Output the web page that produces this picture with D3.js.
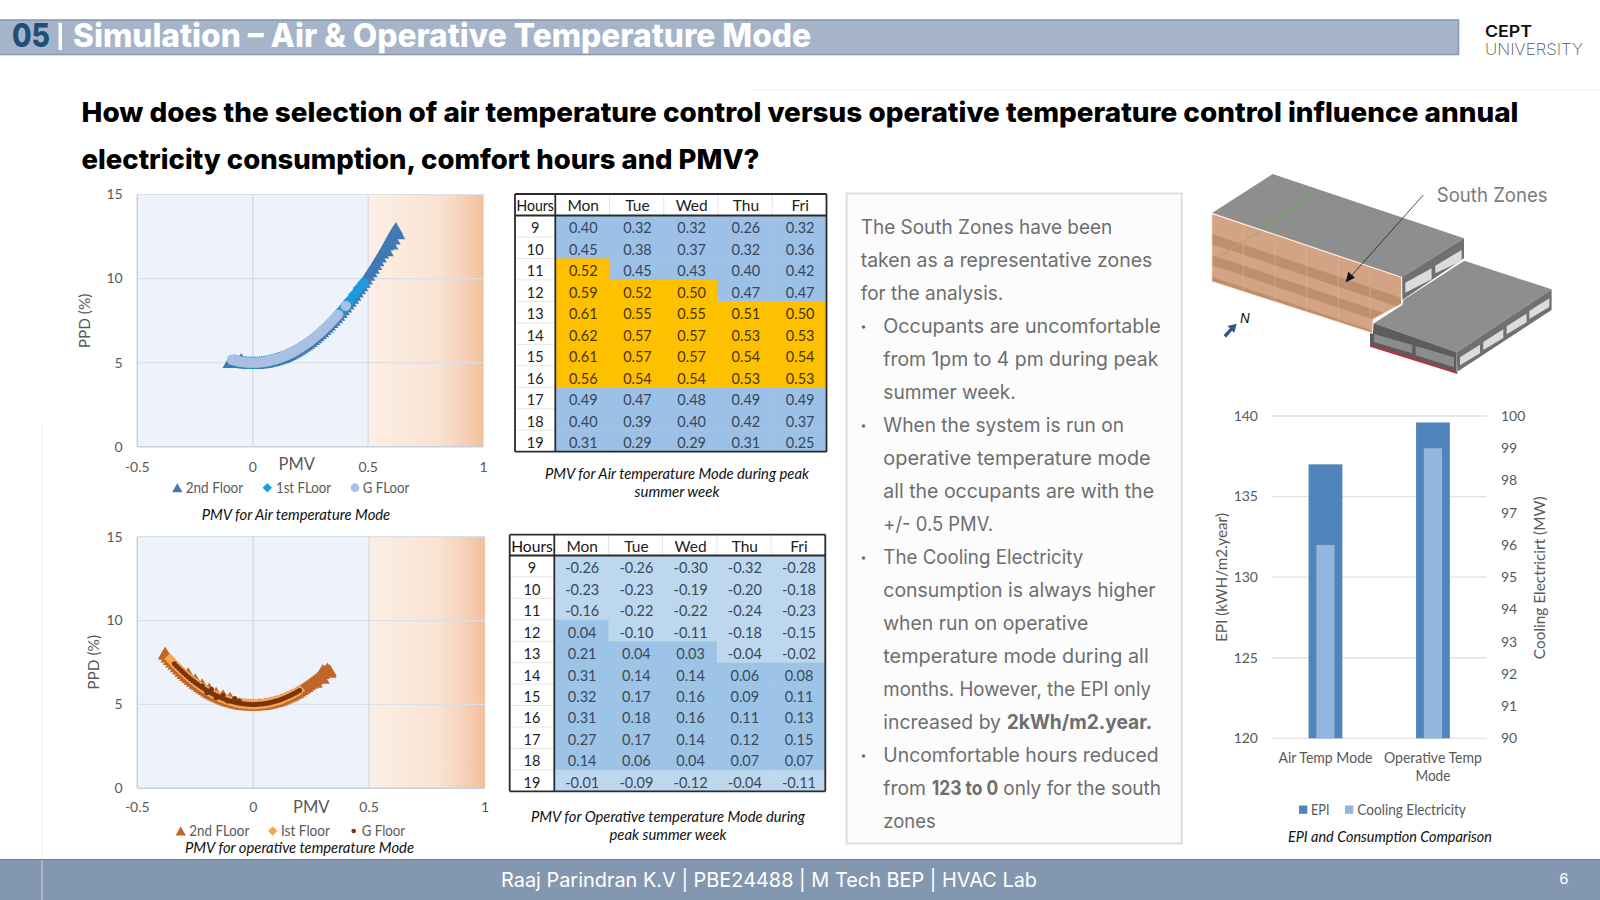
<!DOCTYPE html>
<html><head><meta charset="utf-8">
<script src="https://cdn.jsdelivr.net/npm/d3@7/dist/d3.min.js"></script>
<style>html,body{margin:0;padding:0;background:#fff;overflow:hidden}svg{display:block}</style>
</head><body><svg id="s" width="1600" height="900"></svg>
<script>
// ---------- DATA ----------
const days = ["Mon","Tue","Wed","Thu","Fri"];
const hours = [9,10,11,12,13,14,15,16,17,18,19];
const airTable = [
 ["0.40","0.32","0.32","0.26","0.32"],["0.45","0.38","0.37","0.32","0.36"],["0.52","0.45","0.43","0.40","0.42"],
 ["0.59","0.52","0.50","0.47","0.47"],["0.61","0.55","0.55","0.51","0.50"],["0.62","0.57","0.57","0.53","0.53"],
 ["0.61","0.57","0.57","0.54","0.54"],["0.56","0.54","0.54","0.53","0.53"],["0.49","0.47","0.48","0.49","0.49"],
 ["0.40","0.39","0.40","0.42","0.37"],["0.31","0.29","0.29","0.31","0.25"]];
const opTable = [
 ["-0.26","-0.26","-0.30","-0.32","-0.28"],["-0.23","-0.23","-0.19","-0.20","-0.18"],["-0.16","-0.22","-0.22","-0.24","-0.23"],
 ["0.04","-0.10","-0.11","-0.18","-0.15"],["0.21","0.04","0.03","-0.04","-0.02"],["0.31","0.14","0.14","0.06","0.08"],
 ["0.32","0.17","0.16","0.09","0.11"],["0.31","0.18","0.16","0.11","0.13"],["0.27","0.17","0.14","0.12","0.15"],
 ["0.14","0.06","0.04","0.07","0.07"],["-0.01","-0.09","-0.12","-0.04","-0.11"]];

// PMV / PPD readings along the band in the two scatter plots
const curvePmv = [-0.40,-0.39,-0.38,-0.37,-0.36,-0.35,-0.34,-0.33,-0.32,-0.31,-0.30,-0.29,-0.28,-0.27,-0.26,-0.25,-0.24,-0.23,-0.22,-0.21,-0.20,-0.19,-0.18,-0.17,-0.16,-0.15,-0.14,-0.13,-0.12,-0.11,-0.10,-0.09,-0.08,-0.07,-0.06,-0.05,-0.04,-0.03,-0.02,-0.01,0,0.01,0.02,0.03,0.04,0.05,0.06,0.07,0.08,0.09,0.10,0.11,0.12,0.13,0.14,0.15,0.16,0.17,0.18,0.19,0.20,0.21,0.22,0.23,0.24,0.25,0.26,0.27,0.28,0.29,0.30,0.31,0.32,0.33,0.34,0.35,0.36,0.37,0.38,0.39,0.40,0.41,0.42,0.43,0.44,0.45,0.46,0.47,0.48,0.49,0.50,0.51,0.52,0.53,0.54,0.55,0.56,0.57,0.58,0.59,0.60,0.61,0.62];
const curvePpd = [8.35,8.18,8.02,7.86,7.71,7.56,7.42,7.28,7.14,7.01,6.88,6.76,6.64,6.52,6.41,6.30,6.20,6.10,6.01,5.92,5.83,5.75,5.67,5.60,5.53,5.47,5.41,5.35,5.30,5.25,5.21,5.17,5.13,5.10,5.07,5.05,5.03,5.02,5.01,5.00,5.00,5.00,5.01,5.02,5.03,5.05,5.07,5.10,5.13,5.17,5.21,5.25,5.30,5.35,5.41,5.47,5.53,5.60,5.67,5.75,5.83,5.92,6.01,6.10,6.20,6.30,6.41,6.52,6.64,6.76,6.88,7.01,7.14,7.28,7.42,7.56,7.71,7.86,8.02,8.18,8.35,8.52,8.69,8.87,9.05,9.24,9.43,9.62,9.82,10.02,10.23,10.44,10.66,10.88,11.10,11.33,11.56,11.80,12.04,12.29,12.54,12.79,13.05];
// extents of each series along the band, and the readings off the band
const air2Range = [-0.08,0.61]; const air2XPmv = [-0.10,-0.08,-0.05,0.58,0.60,0.61,0.63,0.62]; const air2XPpd = [5.05,5.15,5.2,11.7,12.1,12.4,12.7,13.0];
const air1Range = [-0.07,0.42]; const air1XPmv = [0.44,0.46,0.48]; const air1XPpd = [9.05,9.43,9.75];
const air0Range = [-0.09,0.37]; const air0XPmv = [0.403]; const air0XPpd = [8.38];
const op2Range = [-0.38,0.32];  const op2XPmv = [-0.38,-0.28,-0.25,-0.22,-0.19,-0.16,-0.13,-0.10,0.27,0.30,0.33,0.33,0.30]; const op2XPpd = [8.1,6.85,6.5,6.2,5.95,5.7,5.55,5.4,6.35,6.6,6.95,7.05,7.05];
const op1Range = [-0.36,0.20];  const op1XPmv = []; const op1XPpd = [];
const op0Range = [-0.34,0.20];  const op0XPmv = [-0.22,-0.20,-0.18,-0.16,-0.13,-0.11,-0.08,-0.06]; const op0XPpd = [6.1,5.7,5.9,5.4,5.55,5.2,5.35,5.2];

const barCats = ["Air Temp Mode","Operative Temp Mode"];
const epiValues = [137,139.6];
const coolingValues = [96,99];
const ppdTicks = [0,5,10,15];
const pmvTicks = [-0.5,0,0.5,1];
const epiTicks = [120,125,130,135,140];
const coolTicks = [90,91,92,93,94,95,96,97,98,99,100];

// ---------- HELPERS ----------
const svg = d3.select("#s");
const CH = "Lato, Carlito, sans-serif";
const PP = "Inter, 'Noto Sans', sans-serif";
const defs = svg.append("defs");
const grad = defs.append("linearGradient").attr("id","warm");
[[0,"#fcefe5"],[0.6,"#f9e3d3"],[0.8,"#f6d3ba"],[1,"#f2c19c"]].forEach(s=>grad.append("stop").attr("offset",s[0]).attr("stop-color",s[1]));
function txt(g,x,y,t,o={}){
  const e=g.append("text").attr("x",x).attr("y",y).text(t)
    .attr("font-family",o.f||CH).attr("font-size",o.s||15).attr("fill",o.c||"#595959")
    .attr("text-anchor",o.a||"start");
  if(o.w)e.attr("font-weight",o.w);
  if(o.i)e.attr("font-style","italic");
  if(o.len)e.attr("textLength",o.len).attr("lengthAdjust","spacingAndGlyphs");
  if(o.rot!=null)e.attr("transform",`rotate(${o.rot} ${x} ${y})`);
  if(o.mid)e.attr("dominant-baseline","central");
  return e;
}
// square diamond and box-centred triangle, as a spreadsheet chart draws its markers
const wideDiamond={draw(c,s){const r=Math.sqrt(s/2);c.moveTo(0,-r);c.lineTo(r,0);c.lineTo(0,r);c.lineTo(-r,0);c.closePath();}};
const boxTriangle={draw(c,s){const w=Math.sqrt(4*s/Math.sqrt(3)),h=w*Math.sqrt(3)/2;c.moveTo(0,-h/2);c.lineTo(w/2,h/2);c.lineTo(-w/2,h/2);c.closePath();}};
function band(range,xPmv,xPpd){
  const eps=1e-6,p=[],q=[];
  curvePmv.forEach((v,i)=>{if(v>=range[0]-eps&&v<=range[1]+eps){p.push(v);q.push(curvePpd[i]);}});
  return {pmv:p.concat(xPmv),ppd:q.concat(xPpd)};
}

// ---------- HEADER / FOOTER ----------
svg.append("rect").attr("x",-2).attr("y",20).attr("width",1460.5).attr("height",34.5).attr("fill","#a5b4c9").attr("stroke","#8a99b3").attr("stroke-width",1.6);
txt(svg,12,46.5,"05",{f:PP,s:32,w:800,c:"#1f4e79",len:38});
svg.append("rect").attr("x",58.5).attr("y",23).attr("width",3.5).attr("height",27).attr("fill","#fff");
txt(svg,73,46.5,"Simulation – Air & Operative Temperature Mode",{f:PP,s:32,w:800,c:"#fff",len:738});
txt(svg,1485,36.5,"CEPT",{f:PP,s:16.5,w:600,c:"#111",len:47});
txt(svg,1485,55,"UNIVERSITY",{f:PP,s:15.5,w:200,c:"#555",len:98});
svg.append("line").attr("x1",753).attr("x2",1600).attr("y1",90).attr("y2",90).attr("stroke","#eeeeee");
svg.append("line").attr("x1",42).attr("x2",42).attr("y1",424).attr("y2",860).attr("stroke","#ececec");
txt(svg,81.5,121.5,"How does the selection of air temperature control versus operative temperature control influence annual",{f:PP,s:27.5,w:800,c:"#000",len:1437});
txt(svg,81.5,169.3,"electricity consumption, comfort hours and PMV?",{f:PP,s:27.5,w:800,c:"#000",len:678});
svg.append("rect").attr("x",0).attr("y",859.5).attr("width",1600).attr("height",40.5).attr("fill","#8497b0");
svg.append("line").attr("x1",0).attr("x2",1600).attr("y1",859.5).attr("y2",859.5).attr("stroke","#6f7d92").attr("stroke-width",1);
svg.append("line").attr("x1",42).attr("x2",42).attr("y1",860).attr("y2",900).attr("stroke","#c9d3e0");
txt(svg,501,886.7,"Raaj Parindran K.V | PBE24488 | M Tech BEP | HVAC Lab",{f:PP,s:20,c:"#fff",len:536});
txt(svg,1564,883.5,"6",{f:PP,s:15,c:"#fff",a:"middle"});

// ---------- SCATTER CHARTS ----------
function scatter(cfg){
  const g=svg.append("g");
  const x=d3.scaleLinear().domain([-0.5,1]).range([137.3,cfg.xr]);
  const y=d3.scaleLinear().domain([0,15]).range([cfg.bottom,cfg.top]);
  g.append("rect").attr("x",x(-0.5)).attr("y",y(15)).attr("width",x(0.5)-x(-0.5)).attr("height",y(0)-y(15)).attr("fill","#eef3fb");
  g.append("rect").attr("x",x(0.5)).attr("y",y(15)).attr("width",x(1)-x(0.5)).attr("height",y(0)-y(15)).attr("fill","url(#warm)");
  g.selectAll(".gy").data(ppdTicks).join("line").attr("x1",x(-0.5)).attr("x2",x(1)).attr("y1",d=>y(d)).attr("y2",d=>y(d))
    .attr("stroke",d=>d===0?"#c9d1dc":"#dcdfe5").attr("stroke-width",d=>d===0?1.6:1.2);
  g.selectAll(".gx").data(pmvTicks.slice(0,3)).join("line").attr("x1",d=>x(d)).attr("x2",d=>x(d)).attr("y1",y(0)).attr("y2",y(15))
    .attr("stroke",d=>d===-0.5?"#c9d1dc":"#d8dbe2").attr("stroke-width",d=>d===-0.5?1.6:1.4);
  g.selectAll(".ty").data(ppdTicks).join("text").attr("x",122.7).attr("y",d=>y(d)).attr("dy","0.35em").attr("text-anchor","end")
    .attr("font-family",CH).attr("font-size",14).attr("fill","#595959").text(d=>d);
  g.selectAll(".tx").data(pmvTicks).join("text").attr("x",d=>x(d)).attr("y",cfg.tickY).attr("text-anchor","middle")
    .attr("font-family",CH).attr("font-size",14).attr("fill","#595959").text(d=>d);
  txt(g,cfg.pmvX,cfg.pmvY,"PMV",{s:16.5,a:"middle"});
  txt(g,cfg.ppdX,cfg.ppdY,"PPD (%)",{s:15.4,a:"middle",rot:-90,mid:1});
  cfg.series.forEach(s=>{
    const pts=s.pmv.map((v,i)=>[v,s.ppd[i]]);
    const sym=d3.symbol().type(s.type).size(s.size)();
    g.append("g").selectAll("path").data(pts).join("path").attr("d",sym)
      .attr("transform",d=>`translate(${x(d[0])},${y(d[1])})`).attr("fill",s.color);
    const ly=cfg.legY;
    g.append("path").attr("d",d3.symbol().type(s.type).size(s.legSize)()).attr("transform",`translate(${s.lx},${ly})`).attr("fill",s.color);
    txt(g,s.tx,ly+5,s.name,{s:14.5,len:s.tw});
  });
  txt(g,cfg.capX,cfg.capY,cfg.cap,{s:14.5,i:1,c:"#111",len:cfg.capW});
}
scatter({xr:483.6,top:194.5,bottom:446.7,tickY:471.5,pmvX:296.7,pmvY:469.5,ppdX:84,ppdY:321,legY:487.7,
  capX:201.7,capY:520,capW:188.5,cap:"PMV for Air temperature Mode",
  series:[
   Object.assign({name:"2nd Floor",type:boxTriangle,size:88,legSize:46,color:"#3f7ab5",lx:177.3,tx:185.7,tw:57.5},band(air2Range,air2XPmv,air2XPpd)),
   Object.assign({name:"1st FLoor",type:wideDiamond,size:80,legSize:44,color:"#1e9be0",lx:267.3,tx:276,tw:55},band(air1Range,air1XPmv,air1XPpd)),
   Object.assign({name:"G FLoor",type:d3.symbolCircle,size:84,legSize:59,color:"#a9c0e3",lx:355,tx:362.7,tw:46.5},band(air0Range,air0XPmv,air0XPpd))]});
scatter({xr:485,top:536.7,bottom:788.3,tickY:812,pmvX:311.3,pmvY:812.5,ppdX:93.3,ppdY:662.3,legY:831,
  capX:185,capY:853.3,capW:229,cap:"PMV for operative temperature Mode",
  series:[
   Object.assign({name:"2nd FLoor",type:boxTriangle,size:84,legSize:46,color:"#c0662a",lx:180.7,tx:189.3,tw:60},band(op2Range,op2XPmv,op2XPpd)),
   Object.assign({name:"Ist Floor",type:wideDiamond,size:60,legSize:44,color:"#f5a64f",lx:272.7,tx:281,tw:49},band(op1Range,op1XPmv,op1XPpd)),
   Object.assign({name:"G Floor",type:d3.symbolCircle,size:20,legSize:17,color:"#7a3410",lx:353.7,tx:361.7,tw:43.5},band(op0Range,op0XPmv,op0XPpd))]});

// ---------- TABLES ----------
function table(cfg){
  const g=svg.append("g");
  const x=d3.scaleBand().domain(days).range([cfg.div,cfg.right]);
  const y=d3.scaleBand().domain(hours).range([cfg.head,cfg.bottom]);
  hours.forEach((h,r)=>{
    g.selectAll(null).data(cfg.rows[r]).join("rect").attr("x",(d,i)=>x(days[i])).attr("y",y(h)).attr("width",x.bandwidth()+0.5).attr("height",y.bandwidth()+0.5).attr("fill",d=>cfg.color(+d));
    g.selectAll(null).data(cfg.rows[r]).join("text").attr("x",(d,i)=>x(days[i])+x.bandwidth()/2+0.8).attr("y",y(h)+y.bandwidth()/2+7.1)
      .attr("text-anchor","middle").attr("font-family",CH).attr("font-size",14.5).attr("fill",d=>cfg.textColor(+d)).text(d=>d);
    txt(g,(cfg.left+cfg.div)/2,y(h)+y.bandwidth()/2+7.1,h,{s:14.5,a:"middle",c:"#222"});
    if(r>0)g.append("line").attr("x1",cfg.left).attr("x2",cfg.div).attr("y1",y(h)).attr("y2",y(h)).attr("stroke","#e6e6e6");
  });
  days.forEach((d,i)=>{
    txt(g,x(d)+x.bandwidth()/2+0.8,cfg.top+(cfg.head-cfg.top)/2+6.5,d,{s:15.5,a:"middle",c:"#222"});
    if(i>0)g.append("line").attr("x1",x(d)).attr("x2",x(d)).attr("y1",cfg.top).attr("y2",cfg.head).attr("stroke","#e6e6e6");
  });
  txt(g,(cfg.left+cfg.div)/2,cfg.top+(cfg.head-cfg.top)/2+6.5,"Hours",{s:15,a:"middle",c:"#111",len:cfg.div-cfg.left-3});
  const d=(x1,y1,x2,y2)=>g.append("line").attr("x1",x1).attr("y1",y1).attr("x2",x2).attr("y2",y2).attr("stroke","#2b2b2b").attr("stroke-width",1.8);
  d(cfg.left,cfg.top,cfg.right,cfg.top);d(cfg.left,cfg.head,cfg.right,cfg.head);d(cfg.left,cfg.bottom,cfg.right,cfg.bottom);
  d(cfg.left,cfg.top,cfg.left,cfg.bottom);d(cfg.div,cfg.top,cfg.div,cfg.bottom);d(cfg.right,cfg.top,cfg.right,cfg.bottom);
  cfg.caps.forEach(c=>txt(g,c[0],c[1],c[2],{s:14.5,i:1,c:"#111",a:"middle",len:c[3]}));
}
table({left:515,div:555.3,right:826.5,top:194,head:215.5,bottom:451.7,rows:airTable,
  color:v=>v>=0.5?"#ffc000":"#9dc0e6",textColor:v=>v>=0.5?"#4a3500":"#35475c",
  caps:[[677,479,"PMV for Air temperature Mode during peak",264],[677,497,"summer week",85]]});
table({left:509.7,div:554.3,right:825.3,top:534.7,head:555.5,bottom:791.3,rows:opTable,
  color:v=>v>=0?"#9dc3e6":"#bdd7ee",textColor:()=>"#3a4a5c",
  caps:[[668,821.5,"PMV for Operative temperature Mode during",274],[668,839.5,"peak summer week",117]]});

// ---------- TEXT PANEL ----------
svg.append("rect").attr("x",846.7).attr("y",193.5).attr("width",335).attr("height",650).attr("fill","#fcfcfc").attr("stroke","#dedede").attr("stroke-width",2);
const tc="#6e6e6e";
function pl(a,b,y,t,w){txt(svg,a,y,t,{f:PP,s:19.5,c:tc,len:b-a,w:w||400});}
pl(860.7,1112.3,234,"The South Zones have been");
pl(860.7,1152.3,267,"taken as a representative zones");
pl(860.7,1003.3,300,"for the analysis.");
pl(883.3,1160.7,333,"Occupants are uncomfortable");
pl(883.3,1158.3,366,"from 1pm to 4 pm during peak");
pl(883.3,1015.7,399,"summer week.");
pl(883.3,1124,432,"When the system is run on");
pl(883.3,1150.7,465,"operative temperature mode");
pl(883.3,1154,498,"all the occupants are with the");
pl(883.3,993,531,"+/- 0.5 PMV.");
pl(883.3,1083.3,564,"The Cooling Electricity");
pl(883.3,1155.7,597,"consumption is always higher");
pl(883.3,1088.3,630,"when run on operative");
pl(883.3,1148.7,663,"temperature mode during all");
pl(883.3,1151,696,"months. However, the EPI only");
pl(883.3,1001,729,"increased by");
pl(1006.7,1152.3,729,"2kWh/m2.year.",700);
pl(883.3,1158.7,762,"Uncomfortable hours reduced");
pl(883.3,926,795,"from");
pl(931.7,998.3,795,"123 to 0",700);
pl(1003.3,1161,795,"only for the south");
pl(883.3,935.7,828,"zones");
[333,432,564,762].forEach(y=>svg.append("circle").attr("cx",863.5).attr("cy",y-6).attr("r",1.8).attr("fill",tc));

// ---------- BUILDING ILLUSTRATION ----------
const b=svg.append("g").attr("transform","translate(1170,160) scale(0.3333)");
const poly=(pts,fill,stroke,sw)=>b.append("polygon").attr("points",pts).attr("fill",fill).attr("stroke",stroke||"none").attr("stroke-width",sw||0);
poly("125,160 308,42 882,235 695,352","#8e8e8e");
b.append("line").attr("x1",445).attr("y1",92).attr("x2",285).attr("y2",205).attr("stroke","#74a468").attr("stroke-width",5);
poly("695,352 882,235 882,295 697,420","#707070");
poly("706,368 785,325 785,358 706,398","#dcdcdc");
poly("796,317 875,270 875,303 796,340","#dcdcdc");
poly("612,490 697,435 700,420 883,302 1145,388 860,577","#8e8e8e");
poly("600,500 612,490 860,577 860,640 600,555","#5c5c5c");
poly("612,522 727,555 727,580 612,546","#8c8c8c");
poly("737,558 852,592 852,622 737,586","#8c8c8c");
poly("600,553 862,635 862,642 600,560","#b2343f");
poly("860,577 1145,388 1145,450 862,635","#707070");
[[870,592],[940,546],[1010,499],[1078,453]].forEach(p=>poly(`${p[0]},${p[1]} ${p[0]+60},${p[1]-38} ${p[0]+60},${p[1]-12} ${p[0]},${p[1]+24}`,"#dcdcdc"));
const clip=defs.append("clipPath").attr("id","front");
clip.append("polygon").attr("points","125,160 695,352 695,432 610,478 607,520 125,365");
poly("125,160 695,352 695,432 610,478 607,520 125,365","#d2a384");
const bk=b.append("g").attr("clip-path","url(#front)");
[[62,92],[125,155],[190,222]].forEach(o=>bk.append("polygon").attr("points",`125,${160+o[0]} 695,${352+o[0]} 695,${352+o[1]} 125,${160+o[1]}`).attr("fill","#bf8e6c"));
[220,315,410,505,600].forEach(v=>bk.append("line").attr("x1",v).attr("x2",v).attr("y1",170).attr("y2",520).attr("stroke","#e0b89c").attr("stroke-width",1.5));
bk.append("line").attr("x1",285).attr("y1",205).attr("x2",130).attr("y2",300).attr("stroke","#b9a66a").attr("stroke-width",4);
poly("125,160 695,352 695,432 610,478 607,520 125,365","none","#fdf0e6",3.5);
b.append("line").attr("x1",760).attr("y1",105).attr("x2",540).attr("y2",352).attr("stroke","#222").attr("stroke-width",2.4);
poly("527,367 535,335 555,353","#111");
poly("161,525 180,505 172,498 200,491 193,518 186,512 168,533","#2f5597");
txt(svg,1240,322.5,"N",{f:PP,s:13,i:1,c:"#111"});
txt(svg,1436.7,201.7,"South Zones",{f:PP,s:20,c:"#7b7b7b",len:111});

// ---------- BAR CHART ----------
const gb=svg.append("g");
const bx=d3.scaleBand().domain(barCats).range([1271.7,1486.7]);
const yL=d3.scaleLinear().domain([120,140]).range([738.3,416]);
const yR=d3.scaleLinear().domain([90,100]).range([738.3,416]);
gb.selectAll(".g").data(epiTicks).join("line").attr("x1",1271.7).attr("x2",1486.7).attr("y1",d=>yL(d)).attr("y2",d=>yL(d)).attr("stroke","#e2e2e2").attr("stroke-width",1.3);
gb.selectAll(".e").data(barCats).join("rect").attr("x",d=>bx(d)+bx.bandwidth()/2-16.9).attr("width",33.8)
  .attr("y",(d,i)=>yL(epiValues[i])).attr("height",(d,i)=>yL(120)-yL(epiValues[i])).attr("fill","#4f85bb");
gb.selectAll(".c").data(barCats).join("rect").attr("x",d=>bx(d)+bx.bandwidth()/2-9.1).attr("width",18.2)
  .attr("y",(d,i)=>yR(coolingValues[i])).attr("height",(d,i)=>yR(90)-yR(coolingValues[i])).attr("fill","#94b6dd");
gb.selectAll(".tl").data(epiTicks).join("text").attr("x",1258).attr("y",d=>yL(d)).attr("dy","0.35em").attr("text-anchor","end")
  .attr("font-family",CH).attr("font-size",14).attr("fill","#595959").text(d=>d);
gb.selectAll(".tr").data(coolTicks).join("text").attr("x",1501).attr("y",d=>yR(d)).attr("dy","0.35em")
  .attr("font-family",CH).attr("font-size",14).attr("fill","#595959").text(d=>d);
txt(gb,1221,577.5,"EPI (kWH/m2.year)",{s:15.3,a:"middle",rot:-90,mid:1});
txt(gb,1539.3,577.8,"Cooling Electricirt (MW)",{s:15.4,a:"middle",rot:-90,mid:1});
const cx0=bx(barCats[0])+bx.bandwidth()/2, cx1=bx(barCats[1])+bx.bandwidth()/2;
txt(gb,cx0,762.7,"Air Temp Mode",{s:14.5,a:"middle",len:94});
txt(gb,cx1,762.7,"Operative Temp",{s:14.5,a:"middle",len:98});
txt(gb,cx1,781,"Mode",{s:14.5,a:"middle",len:35});
gb.append("rect").attr("x",1299).attr("y",805.5).attr("width",8.3).attr("height",8.3).attr("fill","#4f85bb");
txt(gb,1311,814.8,"EPI",{s:14.5,len:18.5});
gb.append("rect").attr("x",1345).attr("y",805.5).attr("width",8.3).attr("height",8.3).attr("fill","#94b6dd");
txt(gb,1357.3,814.8,"Cooling Electricity",{s:14.5,len:108.5});
txt(gb,1288,841.8,"EPI and Consumption Comparison",{s:14.5,i:1,c:"#111",len:204});
</script></body></html>
